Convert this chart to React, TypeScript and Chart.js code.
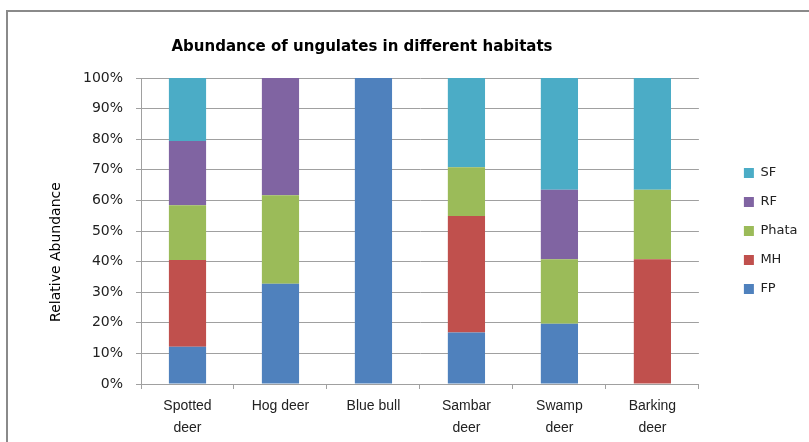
import React, { useEffect, useRef } from "react";
import { Chart, registerables } from "chart.js";

Chart.register(...registerables);

const categories: (string | string[])[] = [
  ["Spotted", "deer"],
  "Hog deer",
  "Blue bull",
  ["Sambar", "deer"],
  ["Swamp", "deer"],
  ["Barking", "deer"],
];

const FP = [12.2, 32.8, 100, 16.8, 19.7, 0];
const MH = [28.3, 0, 0, 38.1, 0, 40.8];
const Phata = [17.9, 28.9, 0, 15.9, 21.1, 22.7];
const RF = [21.0, 38.3, 0, 0, 22.7, 0];
const SF = [20.6, 0, 0, 29.2, 36.5, 36.5];

const yTicks = [0, 10, 20, 30, 40, 50, 60, 70, 80, 90, 100];

const chartTitle = "Abundance of ungulates in different habitats";
const yTitle = "Relative Abundance";

const textPlugin = {
  id: "customTexts",
  afterDraw(chart: any) {
    const { ctx, chartArea } = chart;
    ctx.save();
    ctx.fillStyle = "#000";
    ctx.font = "bold 15px 'DejaVu Sans'";
    ctx.textAlign = "center";
    ctx.textBaseline = "middle";
    ctx.fillText(chartTitle, chartArea.left + 221, chartArea.top - 31);
    ctx.translate(chartArea.left - 85, (chartArea.top + chartArea.bottom) / 2 + 21);
    ctx.rotate(-Math.PI / 2);
    ctx.font = "14px 'DejaVu Sans'";
    ctx.fillText(yTitle, 0, 0);
    ctx.restore();
  },
};

export default function App() {
  const ref = useRef<HTMLCanvasElement | null>(null);

  useEffect(() => {
    if (!ref.current) return;
    const gridColor = "#a0a0a0";
    const chart = new Chart(ref.current, {
      type: "bar",
      data: {
        labels: categories,
        datasets: [
          { label: "FP", data: FP, backgroundColor: "#4F81BD", borderWidth: 0 },
          { label: "MH", data: MH, backgroundColor: "#C0504D", borderWidth: 0 },
          { label: "Phata", data: Phata, backgroundColor: "#9BBB59", borderWidth: 0 },
          { label: "RF", data: RF, backgroundColor: "#8064A2", borderWidth: 0 },
          { label: "SF", data: SF, backgroundColor: "#4BACC6", borderWidth: 0 },
        ],
      },
      options: {
        animation: false,
        responsive: false,
        maintainAspectRatio: false,
        layout: { padding: { top: 78, left: 0, right: 1.5, bottom: 0 } },
        datasets: {
          bar: { barPercentage: 0.4, categoryPercentage: 1 },
        },
        plugins: {
          title: { display: false },
          tooltip: { enabled: false },
          legend: {
            position: "right",
            fullSize: false,
            reverse: true,
            labels: {
              boxWidth: 10,
              boxHeight: 10,
              padding: 16,
              color: "#222",
              font: { family: "'DejaVu Sans'", size: 13 },
            },
          },
        },
        scales: {
          x: {
            stacked: true,
            grid: {
              offset: true,
              drawOnChartArea: false,
              drawTicks: true,
              tickLength: 5,
              color: gridColor,
            },
            border: { display: true, color: gridColor },
            ticks: {
              color: "#222",
              padding: 6,
              maxRotation: 0,
              autoSkip: false,
              font: { family: "'Liberation Sans'", size: 14, lineHeight: 1.6 },
            },
            afterFit: (scale: any) => {
              scale.height = 58;
            },
          },
          y: {
            stacked: true,
            min: 0,
            max: 100,
            afterBuildTicks: (scale: any) => {
              scale.ticks = yTicks.map((v) => ({ value: v }));
            },
            grid: { color: gridColor, tickLength: 5, drawTicks: true },
            border: { display: true, color: gridColor },
            ticks: {
              color: "#222",
              padding: 13,
              font: { family: "'DejaVu Sans'", size: 14 },
              callback: (v: any) => v + "%",
            },
            afterFit: (scale: any) => {
              scale.width = 141;
            },
          },
          spacer: {
            type: "linear",
            position: "right",
            display: true,
            grid: { display: false, drawTicks: false },
            border: { display: false },
            ticks: { display: false },
            afterFit: (scale: any) => {
              scale.width = 29;
            },
          },
        },
      },
      plugins: [textPlugin],
    });
    return () => chart.destroy();
  }, []);

  return (
    <div
      style={{
        position: "absolute",
        left: 0,
        top: 0,
        width: 809,
        height: 442,
        overflow: "hidden",
        background: "#fff",
      }}
    >
      <div
        style={{
          position: "absolute",
          left: 6,
          top: 10,
          width: 900,
          height: 600,
          border: "2px solid #8a8a8a",
          boxSizing: "border-box",
        }}
      />
      <canvas
        ref={ref}
        width={809}
        height={442}
        style={{ position: "absolute", left: 0, top: 0, width: 809, height: 442 }}
      />
    </div>
  );
}
